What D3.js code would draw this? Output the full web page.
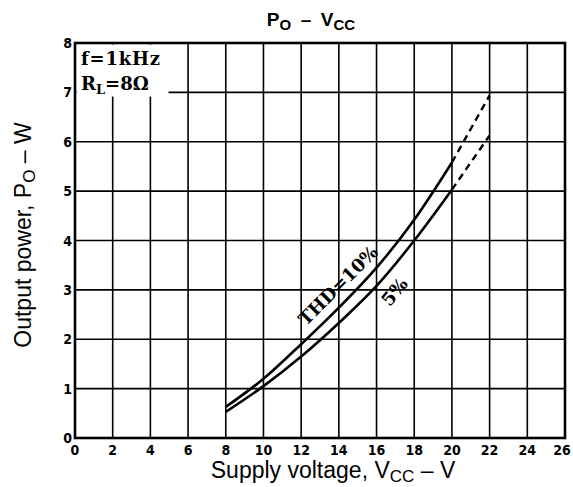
<!DOCTYPE html>
<html>
<head>
<meta charset="utf-8">
<script src="https://cdn.jsdelivr.net/npm/d3@7"></script>
<style>
  body { margin: 0; background: #fff; }
  svg { display: block; }
  .grid line { stroke: #000; stroke-width: 1.6; }
  .tick-label { font-family: "DejaVu Sans Condensed", "DejaVu Sans", sans-serif; font-weight: bold; font-size: 14px; }
  .serif { font-family: "DejaVu Serif", serif; font-weight: bold; }
  .sans { font-family: "Liberation Sans", Arial, sans-serif; }
</style>
</head>
<body>
<svg width="573" height="487"></svg>
<script>
// supply voltage (V) and output power (W)
const vcc = [8, 10, 12, 14, 16, 18, 20, 22];
const thd10 = [0.63, 1.2, 1.9, 2.64, 3.45, 4.42, 5.58, 6.94];
const thd5 = [0.53, 1.05, 1.65, 2.33, 3.08, 4.0, 5.03, 6.13];
const xTicks = [0, 2, 4, 6, 8, 10, 12, 14, 16, 18, 20, 22, 24, 26];
const yTicks = [0, 1, 2, 3, 4, 5, 6, 7, 8];
const solidUpTo = 20; // beyond this the curves are dashed

const svg = d3.select('svg');
const x = d3.scaleLinear().domain([0, 26]).range([75, 565]);
const y = d3.scaleLinear().domain([0, 8]).range([438, 43]);

// grid
const grid = svg.append('g').attr('class', 'grid');
grid.selectAll('line.v').data(xTicks).join('line')
    .attr('class', 'v')
    .attr('x1', d => x(d)).attr('x2', d => x(d))
    .attr('y1', y(0)).attr('y2', y(8));
grid.selectAll('line.h').data(yTicks).join('line')
    .attr('class', 'h')
    .attr('x1', x(0)).attr('x2', x(26))
    .attr('y1', d => y(d)).attr('y2', d => y(d));

// white patch behind the conditions text
svg.append('rect')
    .attr('x', x(0) + 1.5).attr('y', y(8) + 1.5)
    .attr('width', 92).attr('height', 52)
    .attr('fill', '#fff');

// frame
svg.append('rect')
    .attr('x', x(0)).attr('y', y(8))
    .attr('width', x(26) - x(0)).attr('height', y(0) - y(8))
    .attr('fill', 'none').attr('stroke', '#000').attr('stroke-width', 2.6);

// tick labels
svg.append('g').selectAll('text').data(xTicks).join('text')
    .attr('class', 'tick-label')
    .attr('x', d => Math.min(x(d), 562)).attr('y', 455)
    .attr('text-anchor', 'middle')
    .text(d => d);
svg.append('g').selectAll('text').data(yTicks).join('text')
    .attr('class', 'tick-label')
    .attr('x', 72).attr('y', d => y(d) + 5)
    .attr('text-anchor', 'end')
    .text(d => d);

// curves: solid part, then dashed extension
const line = d3.line()
    .x(d => x(d[0])).y(d => y(d[1]))
    .curve(d3.curveMonotoneX);

function drawCurve(values) {
    const pts = vcc.map((v, i) => [v, values[i]]);
    svg.append('path')
        .datum(pts.filter(p => p[0] <= solidUpTo))
        .attr('d', line)
        .attr('fill', 'none').attr('stroke', '#000').attr('stroke-width', 2.6);
    svg.append('path')
        .datum(pts.filter(p => p[0] >= solidUpTo))
        .attr('d', line)
        .attr('fill', 'none').attr('stroke', '#000').attr('stroke-width', 2.4)
        .attr('stroke-dasharray', '7,5');
}
drawCurve(thd10);
drawCurve(thd5);

// curve labels
svg.append('text')
    .attr('class', 'serif')
    .attr('transform', `translate(${x(14.2)},${y(3.0)}) rotate(-45)`)
    .attr('text-anchor', 'middle')
    .style('font-size', '18px')
    .text('THD=10%');
svg.append('text')
    .attr('class', 'serif')
    .attr('transform', `translate(${x(17.2)},${y(2.88)}) rotate(-50)`)
    .attr('text-anchor', 'middle')
    .style('font-size', '18px')
    .text('5%');

// conditions
const cond = svg.append('g').attr('class', 'serif').style('font-size', '18px');
cond.append('text').attr('x', 81).attr('y', 65).style('letter-spacing', '0.8px').text('f=1kHz');
const rl = cond.append('text').attr('x', 81).attr('y', 90);
rl.append('tspan').text('R');
rl.append('tspan').attr('dy', 4).style('font-size', '13px').text('L');
rl.append('tspan').attr('dy', -4).text('=8Ω');

// title
const title = svg.append('text')
    .attr('class', 'sans')
    .attr('x', 311).attr('y', 26)
    .attr('text-anchor', 'middle')
    .style('font-weight', 'bold').style('font-size', '19px');
title.append('tspan').text('P');
title.append('tspan').attr('dy', 4).style('font-size', '15px').text('O');
title.append('tspan').attr('dy', -4).text('\u2002–\u2002V');
title.append('tspan').attr('dy', 4).style('font-size', '15px').text('CC');

// axis titles
const xt = svg.append('text')
    .attr('class', 'sans')
    .attr('x', 333).attr('y', 478)
    .attr('text-anchor', 'middle')
    .style('font-size', '23px');
xt.append('tspan').text('Supply voltage, V');
xt.append('tspan').attr('dy', 4).style('font-size', '17px').text('CC');
xt.append('tspan').attr('dy', -4).text(' – V');

const yt = svg.append('text')
    .attr('class', 'sans')
    .attr('transform', 'translate(31,235) rotate(-90)')
    .attr('text-anchor', 'middle')
    .style('font-size', '23px');
yt.append('tspan').text('Output power, P');
yt.append('tspan').attr('dy', 4).style('font-size', '17px').text('O');
yt.append('tspan').attr('dy', -4).text(' – W');
</script>
</body>
</html>
